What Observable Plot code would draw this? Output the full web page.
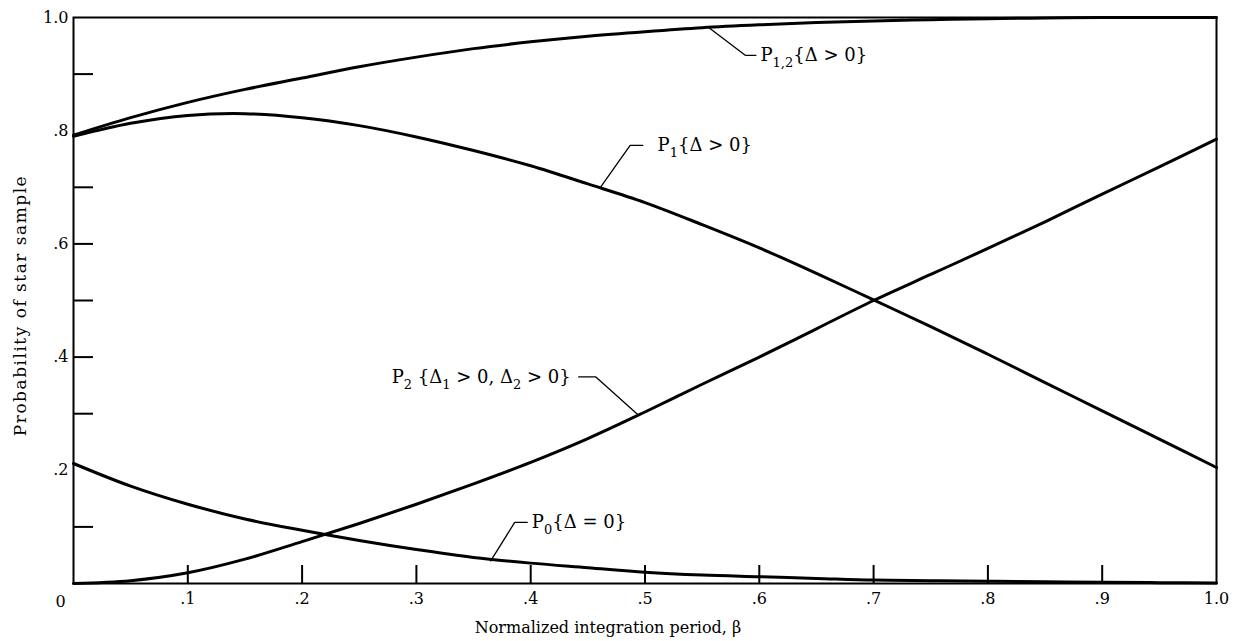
<!DOCTYPE html>
<html>
<head>
<meta charset="utf-8">
<script src="https://cdn.jsdelivr.net/npm/d3@7"></script>
<script src="https://cdn.jsdelivr.net/npm/@observablehq/plot@0.6"></script>
<style>
  html, body { margin: 0; padding: 0; background: #fff; }
  #chart svg { display: block; }
</style>
</head>
<body>
<div id="chart"></div>
<script>
// Normalized integration period β (sample points along each curve)
const beta = [0, 0.05, 0.10, 0.15, 0.20, 0.25, 0.30, 0.35, 0.40, 0.45, 0.50,
              0.55, 0.60, 0.65, 0.70, 0.75, 0.80, 0.85, 0.90, 0.95, 1.00];

// P0{Δ = 0}
const pZero = [0.212, 0.172, 0.140, 0.114, 0.094, 0.076, 0.060, 0.046, 0.036, 0.028, 0.020,
               0.015, 0.012, 0.009, 0.006, 0.005, 0.004, 0.003, 0.002, 0.0015, 0.001];
// P1{Δ > 0}
const pOne = [0.790, 0.813, 0.827, 0.830, 0.823, 0.809, 0.789, 0.765, 0.738, 0.706, 0.673,
              0.634, 0.593, 0.548, 0.501, 0.454, 0.405, 0.355, 0.305, 0.255, 0.205];
// P2{Δ1 > 0, Δ2 > 0}
const pTwo = [0.000, 0.005, 0.019, 0.043, 0.074, 0.106, 0.140, 0.176, 0.214, 0.256, 0.303,
              0.352, 0.400, 0.450, 0.500, 0.546, 0.592, 0.639, 0.688, 0.736, 0.785];
// P1,2{Δ > 0}
const pOneTwo = [0.792, 0.823, 0.850, 0.873, 0.893, 0.913, 0.930, 0.945, 0.957, 0.967, 0.975,
                 0.982, 0.987, 0.991, 0.994, 0.996, 0.998, 0.999, 1.000, 1.000, 1.000];

const seriesNames = ["P0", "P1", "P2", "P12"];
const seriesValues = [pZero, pOne, pTwo, pOneTwo];

// Axis ticks and their printed labels
const xTickValues = [0.1, 0.2, 0.3, 0.4, 0.5, 0.6, 0.7, 0.8, 0.9, 1.0];
const xTickLabels = [".1", ".2", ".3", ".4", ".5", ".6", ".7", ".8", ".9", "1.0"];
const xInnerTicks = [0.1, 0.2, 0.3, 0.4, 0.5, 0.6, 0.7, 0.8, 0.9];
const yTickValues = [0.2, 0.4, 0.6, 0.8, 1.0];
const yTickLabels = [".2", ".4", ".6", ".8", "1.0"];
const yInnerTicks = [0.1, 0.3, 0.4, 0.5, 0.6, 0.7, 0.9];
const originLabel = [{beta: 0, p: 0, text: "0"}];

const xTitle = "Normalized integration period, β";
const yTitle = "Probability of star sample";

// Curve labels: "_[..]" marks a subscript
const labelText = ["P_[1,2]{Δ > 0}", "P_[1]{Δ > 0}", "P_[2] {Δ_[1] > 0, Δ_[2] > 0}", "P_[0]{Δ = 0}"];
const labelBeta = [0.601, 0.511, 0.435, 0.401];
const labelP    = [0.933, 0.774, 0.365, 0.108];
const labelAlign = ["start", "start", "end", "start"];

// Leader lines from each curve to its label
const leaderId   = ["P12", "P12", "P12", "P1", "P1", "P1", "P2", "P2", "P2", "P0", "P0", "P0"];
const leaderBeta = [0.556, 0.588, 0.597, 0.461, 0.487, 0.498, 0.4946, 0.457, 0.442, 0.365, 0.386, 0.397];
const leaderP    = [0.982, 0.933, 0.933, 0.700, 0.774, 0.774, 0.297, 0.365, 0.365, 0.040, 0.108, 0.108];

// Build tables
const rows = seriesNames.flatMap((s, k) => beta.map((b, i) => ({s, beta: b, p: seriesValues[k][i]})));
const leaders = leaderId.map((id, i) => ({id, beta: leaderBeta[i], p: leaderP[i]}));
const plain = (m) => m.replace(/_\[([^\]]*)\]/g, "$1");
const labels = labelText.map((m, i) => ({markup: m, text: plain(m), beta: labelBeta[i], p: labelP[i], align: labelAlign[i]}));
const xFmt = new Map(xTickValues.map((v, i) => [v, xTickLabels[i]]));
const yFmt = new Map(yTickValues.map((v, i) => [v, yTickLabels[i]]));

// Layout
const W = 1242, H = 641;
const mL = 73, mR = 26, mT = 17, mB = 58;
const plotW = W - mL - mR, plotH = H - mT - mB;
const yTickLen = 20, xTickLen = 18;

const chart = Plot.plot({
  width: W,
  height: H,
  marginLeft: mL,
  marginRight: mR,
  marginTop: mT,
  marginBottom: mB,
  style: {fontFamily: "'DejaVu Serif', serif", fontSize: "16px", color: "#000", background: "#fff"},
  x: {domain: [0, 1]},
  y: {domain: [0, 1]},
  marks: [
    // inward ticks
    Plot.tickY(yInnerTicks, {y: d => d, insetRight: plotW - yTickLen, stroke: "#000", strokeWidth: 2}),
    Plot.tickX(xInnerTicks, {x: d => d, insetTop: plotH - xTickLen, stroke: "#000", strokeWidth: 2}),
    // tick labels
    Plot.axisY(yTickValues, {tickSize: 0, tickPadding: 5, tickFormat: d => yFmt.get(d), label: null, fontSize: 16}),
    Plot.axisX(xTickValues, {tickSize: 0, tickPadding: 9, tickFormat: d => xFmt.get(d), label: null, fontSize: 16}),
    Plot.text(originLabel, {x: "beta", y: "p", text: "text", dx: -13, dy: 18, fontSize: 16}),
    // axis titles
    Plot.text([xTitle], {frameAnchor: "bottom", textAnchor: "middle", lineAnchor: "middle", text: d => d, dy: 44, dx: -37, fontSize: 16}),
    Plot.text([yTitle], {frameAnchor: "left", textAnchor: "middle", lineAnchor: "middle", text: d => d, rotate: -90, dx: -53, dy: 5, fontSize: 17}),
    // curves
    Plot.line(rows, {x: "beta", y: "p", z: "s", stroke: "#000", strokeWidth: 3, curve: "catmull-rom"}),
    // leaders and labels
    Plot.line(leaders, {x: "beta", y: "p", z: "id", stroke: "#000", strokeWidth: 1.3}),
    Plot.text(labels.filter(d => d.align === "start"), {x: "beta", y: "p", text: "text", textAnchor: "start", fontSize: 18}),
    Plot.text(labels.filter(d => d.align === "end"), {x: "beta", y: "p", text: "text", textAnchor: "end", fontSize: 18}),
    // plot frame
    Plot.frame({stroke: "#000", strokeWidth: 2})
  ]
});

// Turn "_[..]" segments of the curve labels into subscripts; space out the y title
const byText = new Map(labels.map(d => [d.text, d.markup]));
const NS = "http://www.w3.org/2000/svg";
for (const t of chart.querySelectorAll("text")) {
  if (t.textContent === yTitle) { t.setAttribute("letter-spacing", "1.5"); continue; }
  const markup = byText.get(t.textContent);
  if (!markup) continue;
  t.textContent = "";
  const parts = markup.split(/(_\[[^\]]*\])/).filter(s => s.length);
  let lowered = false;
  for (const part of parts) {
    const ts = document.createElementNS(NS, "tspan");
    if (part.startsWith("_[")) {
      ts.textContent = part.slice(2, -1);
      ts.setAttribute("font-size", "13");
      ts.setAttribute("dy", "6");
      lowered = true;
    } else {
      ts.textContent = part;
      if (lowered) { ts.setAttribute("dy", "-6"); lowered = false; }
    }
    t.appendChild(ts);
  }
}

document.getElementById("chart").appendChild(chart);
</script>
</body>
</html>
